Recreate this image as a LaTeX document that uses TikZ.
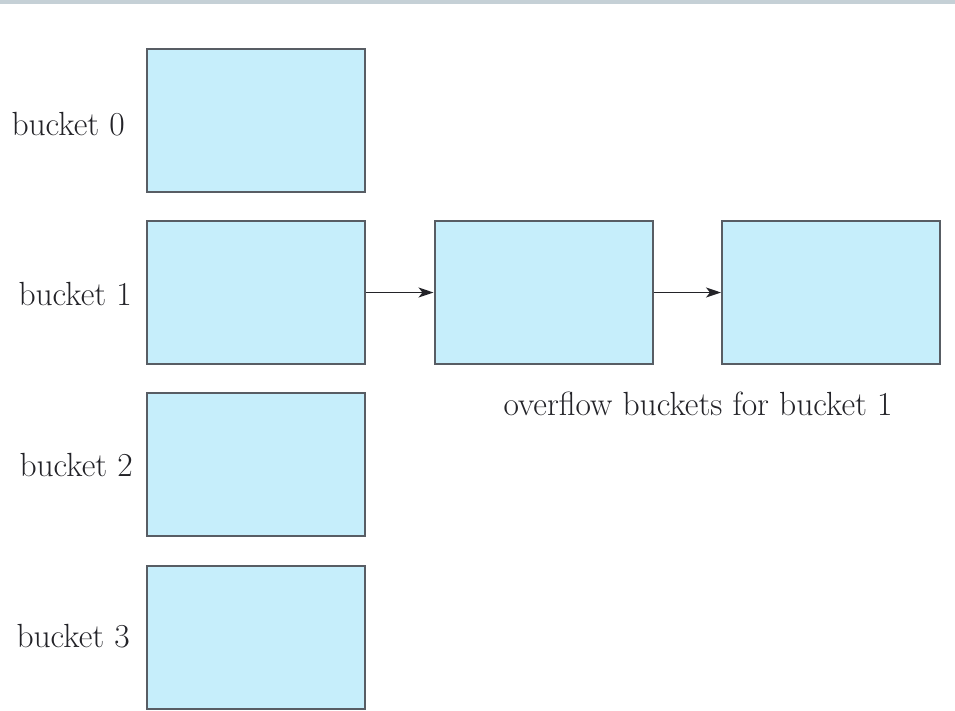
\documentclass[tikz,border=0pt]{standalone}
\usetikzlibrary{arrows.meta}
\definecolor{bucketfill}{RGB}{198,238,251}
\definecolor{bucketline}{RGB}{88,93,100}
\definecolor{topbar}{RGB}{197,208,214}
\definecolor{labeltext}{RGB}{35,35,40}
\tikzset{
  bucketbox/.style={draw=bucketline, fill=bucketfill, line width=2pt,
    minimum width=218pt, minimum height=143pt, inner sep=0pt},
  bucketlabel/.style={text=labeltext, font=\fontsize{33.5}{40}\selectfont, inner sep=0pt},
  chain/.style={draw=labeltext, line width=1.5pt, -{Stealth[length=15pt,width=10pt,inset=4pt]}}
}
\begin{document}
\begin{tikzpicture}[x=1pt,y=-1pt]
  \useasboundingbox (0,0) rectangle (955,710);
  % thin bar along the top edge
  \fill[topbar] (0,0) rectangle (955,4);

  % primary buckets
  \node[bucketbox] (b0) at (256,120.5) {};
  \node[bucketbox] (b1) at (256,292.5) {};
  \node[bucketbox] (b2) at (256,464) {};
  \node[bucketbox] (b3) at (256,637.5) {};

  % overflow chain of bucket 1
  \node[bucketbox] (o1) at (543.5,292.5) {};
  \node[bucketbox] (o2) at (831,292.5) {};

  \node[bucketlabel, anchor=east] (l0) at (125,124) {bucket 0};
  \node[bucketlabel, anchor=east] (l1) at (132,294) {bucket 1};
  \node[bucketlabel, anchor=east] (l2) at (133,465) {bucket 2};
  \node[bucketlabel, anchor=east] (l3) at (130,636) {bucket 3};
  \node[bucketlabel] (ol) at (698,404) {overflow buckets for bucket 1};

  \draw[chain] (b1.east) -- (o1.west);
  \draw[chain] (o1.east) -- (o2.west);
\end{tikzpicture}
\end{document}
